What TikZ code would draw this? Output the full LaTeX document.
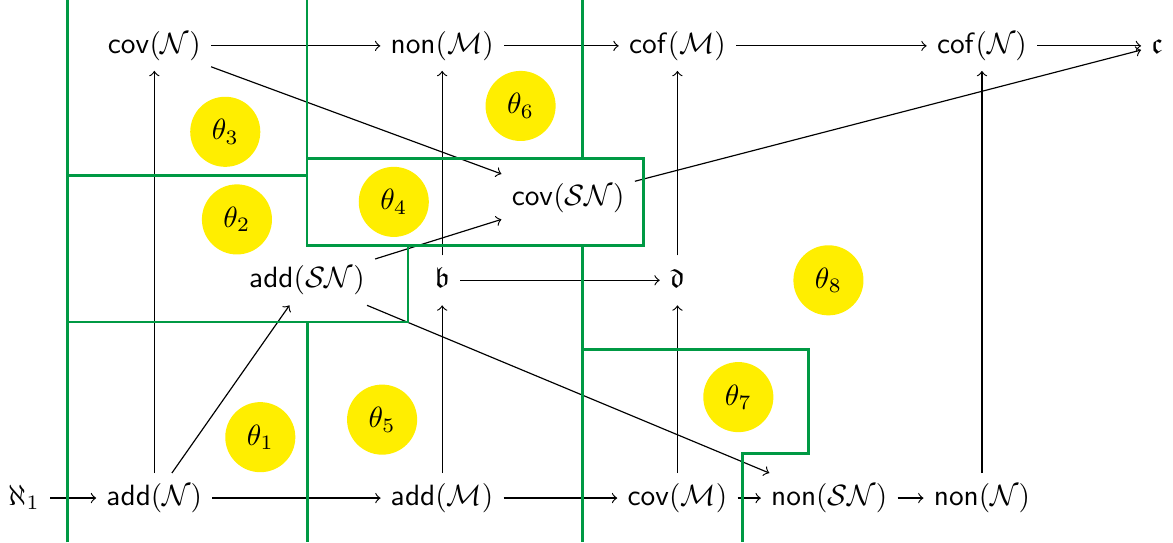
\documentclass[tikz,border=0pt]{standalone}
\usepackage{amsmath}
\usepackage{amsfonts}
\usepackage{amssymb}
\usetikzlibrary{arrows}

\definecolor{wallgreen}{RGB}{0,153,68}
\definecolor{thetayellow}{RGB}{255,238,0}

\begin{document}
\begin{tikzpicture}[
    card/.style={text height=7.5pt,text depth=2.5pt},
    theta/.style={circle,fill=thetayellow,minimum size=0.84cm,inner sep=0pt},
    wall/.style={wallgreen,line width=1pt}]
     \useasboundingbox (0,0) rectangle (14.06,6.50);
     % bottom row
     \node[card] (aleph) at (0.29,0.53) {$\aleph_1$};
     \node[card] (addN) at (1.85,0.53) {$\mathsf{add}(\mathcal{N})$};
     \node[card] (addM) at (5.30,0.53) {$\mathsf{add}(\mathcal{M})$};
     \node[card] (covM) at (8.12,0.53) {$\mathsf{cov}(\mathcal{M})$};
     \node[card] (nonSN) at (9.94,0.53) {$\mathsf{non}(\mathcal{SN})$};
     \node[card] (nonN) at (11.77,0.53) {$\mathsf{non}(\mathcal{N})$};
     % middle
     \node[card] (addSN) at (3.68,3.14) {$\mathsf{add}(\mathcal{SN})$};
     \node[card] (b) at (5.30,3.14) {$\mathfrak{b}$};
     \node[card] (d) at (8.12,3.14) {$\mathfrak{d}$};
     \node[card] (covSN) at (6.81,4.12) {$\mathsf{cov}(\mathcal{SN})$};
     % top row
     \node[card] (covN) at (1.85,5.95) {$\mathsf{cov}(\mathcal{N})$};
     \node[card] (nonM) at (5.30,5.95) {$\mathsf{non}(\mathcal{M})$};
     \node[card] (cofM) at (8.12,5.95) {$\mathsf{cof}(\mathcal{M})$};
     \node[card] (cofN) at (11.77,5.95) {$\mathsf{cof}(\mathcal{N})$};
     \node[card] (c) at (13.87,5.95) {$\mathfrak{c}$};

     % arrows
     \draw[->] (aleph) -- (addN);
     \draw[->] (addN) -- (addM);
     \draw[->] (addM) -- (covM);
     \draw[->] (covM) -- (nonSN);
     \draw[->] (nonSN) -- (nonN);
     \draw[->] (covN) -- (nonM);
     \draw[->] (nonM) -- (cofM);
     \draw[->] (cofM) -- (cofN);
     \draw[->] (cofN) -- (c);
     \draw[->] (addN) -- (covN);
     \draw[->] (addM) -- (b);
     \draw[->] (b) -- (nonM);
     \draw[->] (b) -- (d);
     \draw[->] (covM) -- (d);
     \draw[->] (d) -- (cofM);
     \draw[->] (nonN) -- (cofN);
     \draw[->] (addN) -- (addSN);
     \draw[->] (addSN) -- (covSN);
     \draw[->] (addSN) -- (nonSN);
     \draw[->] (covN) -- (covSN);
     \draw[->] (covSN) -- (c);

     % the green walls between the regions
     \draw[wall] (0.81,0) -- (0.81,6.50);
     \draw[wall] (0.81,4.40) -- (3.68,4.40);
     \draw[wall] (3.68,6.50) -- (3.68,3.56) -- (7.71,3.56) -- (7.71,4.60) -- (3.68,4.60);
     \draw[wall] (6.98,6.50) -- (6.98,4.60);
     \draw[wall] (4.89,3.56) -- (4.89,2.64) -- (0.81,2.64);
     \draw[wall] (3.69,2.64) -- (3.69,0);
     \draw[wall] (6.98,3.56) -- (6.98,0);
     \draw[wall] (6.98,2.31) -- (9.69,2.31) -- (9.69,1.06) -- (8.90,1.06) -- (8.90,0);

     % region labels
     \foreach \n/\x/\y in {1/3.12/1.26, 2/2.84/3.87, 3/2.70/4.92, 4/4.72/4.08,
                           5/4.58/1.47, 6/6.24/5.23, 7/8.85/1.74, 8/9.93/3.14}
        \node[theta] (t\n) at (\x,\y) {$\theta_{\n}$};
  \end{tikzpicture}
\end{document}
